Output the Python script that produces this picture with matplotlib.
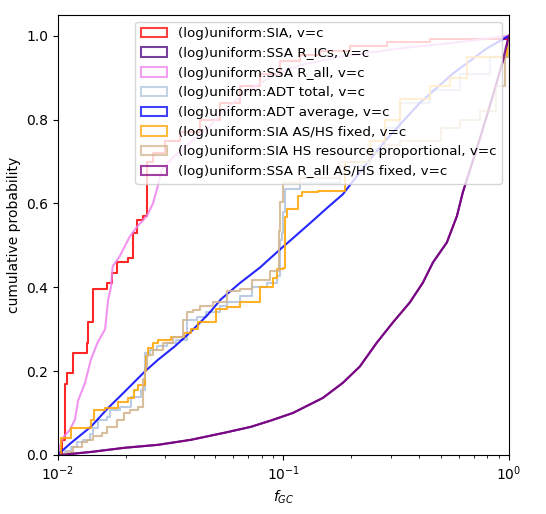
import matplotlib
matplotlib.use('Agg')
import matplotlib.pyplot as plt
from matplotlib.patches import Patch

# cumulative distributions (f_GC, cumulative probability)
sia_f = [0.0100, 0.0104, 0.0107, 0.0110, 0.0117, 0.0135, 0.0136, 0.0143, 0.0165, 0.0174, 0.0183,
         0.0204, 0.0215, 0.0224, 0.0238, 0.0248, 0.0264, 0.0298, 0.0348, 0.0426, 0.0523, 0.0641,
         0.0790, 0.0965, 0.1183, 0.1452, 0.1972, 0.2877, 0.4467, 1.0]
sia_p = [0.0, 0.036, 0.17, 0.195, 0.244, 0.268, 0.316, 0.395, 0.41, 0.435, 0.46,
         0.47, 0.53, 0.56, 0.57, 0.70, 0.72, 0.75, 0.77, 0.80, 0.84, 0.88,
         0.91, 0.94, 0.955, 0.965, 0.975, 0.985, 0.993, 1.0]

ssa_rics_f = [0.0100, 0.0103, 0.0140, 0.0198, 0.0278, 0.0389, 0.0550, 0.0718, 0.0880, 0.1102,
              0.1497, 0.1836, 0.2184, 0.2598, 0.3059, 0.3639, 0.4156, 0.4603, 0.5309, 0.5883,
              0.6252, 0.7430, 0.8492, 0.9407, 1.0]
ssa_rics_p = [0.0, 0.0, 0.007, 0.017, 0.024, 0.036, 0.053, 0.067, 0.082, 0.10,
              0.136, 0.172, 0.211, 0.268, 0.316, 0.364, 0.411, 0.459, 0.507, 0.57,
              0.627, 0.754, 0.857, 0.94, 1.0]

ssa_rall_f = [0.0100, 0.0104, 0.0107, 0.0113, 0.0119, 0.0123, 0.0132, 0.0140, 0.0150, 0.0162,
              0.0167, 0.0172, 0.0175, 0.0188, 0.0208, 0.0224, 0.0248, 0.0264, 0.0275, 0.0289,
              0.0324, 0.0385, 0.0463, 0.0539, 0.0680, 0.0898, 0.1183, 0.1780, 0.3286, 0.6000, 1.0]
ssa_rall_p = [0.0, 0.035, 0.045, 0.06, 0.084, 0.13, 0.172, 0.227, 0.268, 0.30,
              0.37, 0.40, 0.45, 0.474, 0.52, 0.544, 0.57, 0.60, 0.634, 0.68,
              0.71, 0.745, 0.78, 0.82, 0.866, 0.905, 0.93, 0.95, 0.97, 0.985, 1.0]

adt_total_f = [0.0100, 0.0107, 0.0114, 0.0121, 0.0129, 0.0139, 0.0143, 0.0150, 0.0165, 0.0170,
               0.0188, 0.0210, 0.0233, 0.0243, 0.0256, 0.0275, 0.0304, 0.0333, 0.0373, 0.0413,
               0.0455, 0.0523, 0.0562, 0.0641, 0.0726, 0.0845, 0.0940, 0.0965, 0.0985, 0.0995,
               0.1016, 0.1183, 0.1780, 0.2419, 0.2818, 0.3286, 0.4467, 0.6067, 0.8241, 0.9597, 1.0]
adt_total_p = [0.0, 0.01, 0.02, 0.03, 0.036, 0.05, 0.064, 0.083, 0.09, 0.108,
               0.115, 0.139, 0.155, 0.244, 0.25, 0.26, 0.268, 0.275, 0.323, 0.33,
               0.34, 0.355, 0.364, 0.378, 0.40, 0.41, 0.426, 0.514, 0.53, 0.58,
               0.634, 0.65, 0.69, 0.73, 0.78, 0.84, 0.87, 0.91, 0.95, 0.97, 1.0]

adt_avg_f = [0.0100, 0.0103, 0.0114, 0.0140, 0.0167, 0.0198, 0.0243, 0.0278, 0.0330, 0.0389,
             0.0463, 0.0528, 0.0641, 0.0787, 0.0965, 0.1102, 0.1352, 0.1560, 0.1836, 0.2298,
             0.2877, 0.4029, 0.5649, 0.7980, 1.0]
adt_avg_p = [0.0, 0.007, 0.028, 0.067, 0.112, 0.151, 0.199, 0.227, 0.259, 0.294,
             0.335, 0.371, 0.41, 0.447, 0.49, 0.517, 0.559, 0.589, 0.622, 0.69,
             0.754, 0.84, 0.91, 0.97, 1.0]

sia_ashs_f = [0.0100, 0.0103, 0.0114, 0.0140, 0.0145, 0.0162, 0.0185, 0.0204, 0.0218, 0.0226,
              0.0243, 0.0246, 0.0252, 0.0264, 0.0278, 0.0317, 0.0362, 0.0389, 0.0418, 0.0502,
              0.0562, 0.0641, 0.0787, 0.0900, 0.0940, 0.0995, 0.1016, 0.1036, 0.1159, 0.1211,
              0.1420, 0.1875, 0.2419, 0.2818, 0.3286, 0.4467, 0.5474, 0.6516, 0.9797, 1.0]
sia_ashs_p = [0.0, 0.04, 0.064, 0.084, 0.108, 0.112, 0.127, 0.136, 0.155, 0.167,
              0.20, 0.235, 0.256, 0.268, 0.275, 0.282, 0.29, 0.30, 0.316, 0.347,
              0.354, 0.364, 0.40, 0.423, 0.443, 0.447, 0.567, 0.586, 0.617, 0.627,
              0.63, 0.70, 0.75, 0.80, 0.85, 0.88, 0.90, 0.95, 0.97, 1.0]

sia_hs_f = [0.0100, 0.0110, 0.0117, 0.0128, 0.0135, 0.0143, 0.0157, 0.0165, 0.0183, 0.0196,
            0.0208, 0.0226, 0.0238, 0.0243, 0.0248, 0.0264, 0.0292, 0.0324, 0.0357, 0.0373,
            0.0396, 0.0426, 0.0487, 0.0562, 0.0641, 0.0726, 0.0871, 0.0955, 0.0965, 0.0995,
            0.1183, 0.1780, 0.2419, 0.2818, 0.3286, 0.5000, 0.6067, 0.7430, 0.8730, 0.9597, 1.0]
sia_hs_p = [0.0, 0.007, 0.02, 0.03, 0.036, 0.045, 0.052, 0.067, 0.083, 0.10,
            0.108, 0.115, 0.18, 0.21, 0.239, 0.25, 0.268, 0.282, 0.323, 0.34,
            0.345, 0.355, 0.364, 0.39, 0.397, 0.418, 0.44, 0.534, 0.603, 0.65,
            0.66, 0.70, 0.72, 0.74, 0.75, 0.78, 0.80, 0.82, 0.88, 0.95, 1.0]

ssa_rall_ashs_f = [0.0100, 0.0103, 0.0140, 0.0198, 0.0278, 0.0389, 0.0550, 0.0718, 0.0880, 0.1102,
                   0.1497, 0.1836, 0.2184, 0.2598, 0.3059, 0.3639, 0.4156, 0.4603, 0.5309, 0.5883,
                   0.6252, 0.7430, 0.8492, 0.9407, 1.0]
ssa_rall_ashs_p = [0.0, 0.0, 0.007, 0.017, 0.024, 0.036, 0.053, 0.067, 0.082, 0.10,
                   0.136, 0.172, 0.211, 0.268, 0.316, 0.364, 0.411, 0.459, 0.507, 0.57,
                   0.627, 0.754, 0.857, 0.94, 1.0]

labels = ['(log)uniform:SIA, v=c',
          '(log)uniform:SSA R_ICs, v=c',
          '(log)uniform:SSA R_all, v=c',
          '(log)uniform:ADT total, v=c',
          '(log)uniform:ADT average, v=c',
          '(log)uniform:SIA AS/HS fixed, v=c',
          '(log)uniform:SIA HS resource proportional, v=c',
          '(log)uniform:SSA R_all AS/HS fixed, v=c']
colors = ['red', 'indigo', 'violet', 'lightsteelblue', 'blue', 'orange', 'tan', 'purple']
# stepped curves vs. smooth-looking ones
styles = ['steps-post', 'default', 'default', 'steps-post', 'default',
          'steps-post', 'steps-post', 'default']

series = [(sia_f, sia_p), (ssa_rics_f, ssa_rics_p), (ssa_rall_f, ssa_rall_p),
          (adt_total_f, adt_total_p), (adt_avg_f, adt_avg_p), (sia_ashs_f, sia_ashs_p),
          (sia_hs_f, sia_hs_p), (ssa_rall_ashs_f, ssa_rall_ashs_p)]

fig = plt.figure(figsize=(5.46, 5.14), dpi=100)
ax = fig.add_axes([0.106, 0.115, 0.826, 0.856])

for (f, p), c, ds in zip(series, colors, styles):
    ax.plot(f, p, drawstyle=ds, color=c, alpha=0.85, linewidth=1.5)

ax.set_xscale('log')
ax.set_xlim(0.01, 1.0)
ax.set_ylim(0.0, 1.05)
ax.set_yticks([0.0, 0.2, 0.4, 0.6, 0.8, 1.0])
ax.set_xlabel('$f_{GC}$')
ax.set_ylabel('cumulative probability')

handles = [Patch(facecolor='none', edgecolor=c, alpha=0.75, linewidth=1.5) for c in colors]
ax.legend(handles, labels, loc='upper right', fontsize=9.7)

plt.savefig('out.png', dpi=100)
